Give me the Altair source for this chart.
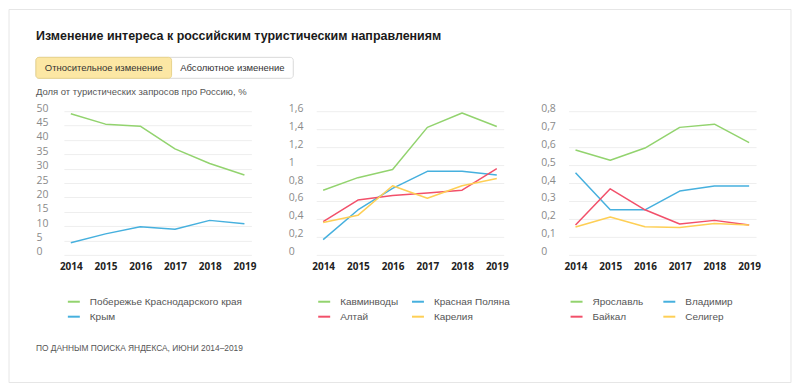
import altair as alt
import pandas as pd

years = [2014, 2015, 2016, 2017, 2018, 2019]

# Panel 1
p1_names = ["Побережье Краснодарского края", "Крым"]
krasnodar = [49.1, 45.5, 44.8, 36.9, 31.8, 27.8]
crimea = [4.2, 7.3, 9.8, 8.9, 12.0, 10.8]

# Panel 2
p2_names = ["Кавминводы", "Красная Поляна", "Алтай", "Карелия"]
kavminvody = [0.72, 0.86, 0.95, 1.42, 1.58, 1.43]
krasnaya_polyana = [0.17, 0.50, 0.74, 0.93, 0.93, 0.89]
altai = [0.37, 0.61, 0.66, 0.69, 0.72, 0.96]
karelia = [0.36, 0.44, 0.77, 0.63, 0.77, 0.85]

# Panel 3
p3_names = ["Ярославль", "Владимир", "Байкал", "Селигер"]
yaroslavl = [0.584, 0.527, 0.595, 0.71, 0.728, 0.625]
vladimir = [0.457, 0.251, 0.251, 0.355, 0.383, 0.383]
baikal = [0.166, 0.368, 0.251, 0.172, 0.192, 0.166]
seliger = [0.155, 0.211, 0.157, 0.152, 0.174, 0.166]

p1_ticks = [0, 5, 10, 15, 20, 25, 30, 35, 40, 45, 50]
p2_ticks = [0, 0.2, 0.4, 0.6, 0.8, 1.0, 1.2, 1.4, 1.6]
p3_ticks = [0, 0.1, 0.2, 0.3, 0.4, 0.5, 0.6, 0.7, 0.8]

GREEN = "#92d36e"
BLUE = "#46b0de"
RED = "#f2506a"
YELLOW = "#fecf55"

title_text = "Изменение интереса к российским туристическим направлениям"
btn_left = "Относительное изменение"
btn_right = "Абсолютное изменение"
subtitle_text = "Доля от туристических запросов про Россию, %"
footer_text = "ПО ДАННЫМ ПОИСКА ЯНДЕКСА, ИЮНИ 2014–2019"

AX_FONT = "Open Sans"
TXT_FONT = "Liberation Sans"

W = 188
H = 144


def long_df(names, series):
    rows = []
    for n, s in zip(names, series):
        for y, v in zip(years, s):
            rows.append({"year": y, "name": n, "value": v})
    return pd.DataFrame(rows)


def panel(df, names, colors, ymax, ticks, fmt_expr, columns, col_pad, legend_x):
    x = alt.X(
        "year:O",
        scale=alt.Scale(type="point", padding=0.2),
        axis=alt.Axis(
            title=None, ticks=False, domain=False, grid=False, labelAngle=0,
            labelFont=AX_FONT, labelFontSize=10, labelFontWeight="bold",
            labelColor="#222222", labelPadding=7,
        ),
    )
    y = alt.Y(
        "value:Q",
        scale=alt.Scale(domain=[0, ymax], nice=False, zero=True),
        axis=alt.Axis(
            title=None, values=ticks, ticks=False, tickSize=0, domain=False,
            grid=True, gridColor="#eeeeee", gridWidth=1,
            labelFont=AX_FONT, labelFontSize=10.5, labelColor="#8a8a8a",
            labelAlign="left", labelBaseline="alphabetic", labelPadding=28,
            labelExpr=fmt_expr,
        ),
    )
    color = alt.Color(
        "name:N",
        scale=alt.Scale(domain=names, range=colors),
        sort=names,
        legend=alt.Legend(
            title=None, orient="none", legendX=legend_x, legendY=184,
            direction="horizontal", columns=columns, columnPadding=col_pad,
            rowPadding=3, symbolType="stroke", symbolSize=144,
            symbolStrokeWidth=2, labelFont=TXT_FONT, labelFontSize=10,
            labelColor="#555555", labelOffset=9, labelLimit=300,
        ),
    )
    return (
        alt.Chart(df)
        .mark_line(strokeWidth=1.5, strokeJoin="round")
        .encode(x=x, y=y, color=color, order="year:O")
        .properties(width=W, height=H)
    )


one = pd.DataFrame({"k": [0]})

border = alt.Chart(one).mark_rect(fill="transparent", stroke="#e6e6e6", strokeWidth=1).encode(
    x=alt.value(-55), x2=alt.value(729), y=alt.value(-102), y2=alt.value(272)
)
title = alt.Chart(one).mark_text(
    text=title_text, font=TXT_FONT, fontSize=12.5, fontWeight="bold",
    color="#1a1a1a", align="left", baseline="middle",
).encode(x=alt.value(-28), y=alt.value(-75))
btn_frame = alt.Chart(one).mark_rect(
    fill="white", stroke="#d9d9d9", strokeWidth=1, cornerRadius=3
).encode(x=alt.value(-28), x2=alt.value(230), y=alt.value(-54), y2=alt.value(-33))
btn_fill = alt.Chart(one).mark_rect(
    fill="#fce7a4", stroke="#e8d38c", strokeWidth=1, cornerRadius=3
).encode(x=alt.value(-28), x2=alt.value(108), y=alt.value(-54), y2=alt.value(-33))
btn_t1 = alt.Chart(one).mark_text(
    text=btn_left, font=TXT_FONT, fontSize=9.5, color="#333333",
    align="center", baseline="middle",
).encode(x=alt.value(40), y=alt.value(-43.5))
btn_t2 = alt.Chart(one).mark_text(
    text=btn_right, font=TXT_FONT, fontSize=9.5, color="#333333",
    align="center", baseline="middle",
).encode(x=alt.value(169), y=alt.value(-43.5))
subtitle = alt.Chart(one).mark_text(
    text=subtitle_text, font=TXT_FONT, fontSize=9.5, color="#555555",
    align="left", baseline="middle",
).encode(x=alt.value(-28), y=alt.value(-19))
footer = alt.Chart(one).mark_text(
    text=footer_text, font=TXT_FONT, fontSize=8.4, color="#555555",
    align="left", baseline="middle",
).encode(x=alt.value(-28), y=alt.value(237))

p1 = panel(
    long_df(p1_names, [krasnodar, crimea]), p1_names, [GREEN, BLUE], 50,
    p1_ticks, "format(datum.value, 'd')", 1, 10, 3,
)
p2 = panel(
    long_df(p2_names, [kavminvody, krasnaya_polyana, altai, karelia]), p2_names,
    [GREEN, BLUE, RED, YELLOW], 1.6, p2_ticks,
    "replace(format(datum.value, '.1~f'), '.', ',')", 2, 9, 1,
)
p3 = panel(
    long_df(p3_names, [yaroslavl, vladimir, baikal, seliger]), p3_names,
    [GREEN, BLUE, RED, YELLOW], 0.8, p3_ticks,
    "replace(format(datum.value, '.1~f'), '.', ',')", 2, 16, 1,
)

left = alt.layer(border, title, btn_frame, btn_fill, btn_t1, btn_t2, subtitle, footer, p1)

chart = (
    alt.hconcat(left, p2, p3, spacing=65, bounds="flush")
    .resolve_scale(color="independent", y="independent", x="independent")
    .properties(padding=0, background="white")
    .configure_view(stroke=None)
)

chart.save("out.html", embed_options={"renderer": "svg", "actions": False})
